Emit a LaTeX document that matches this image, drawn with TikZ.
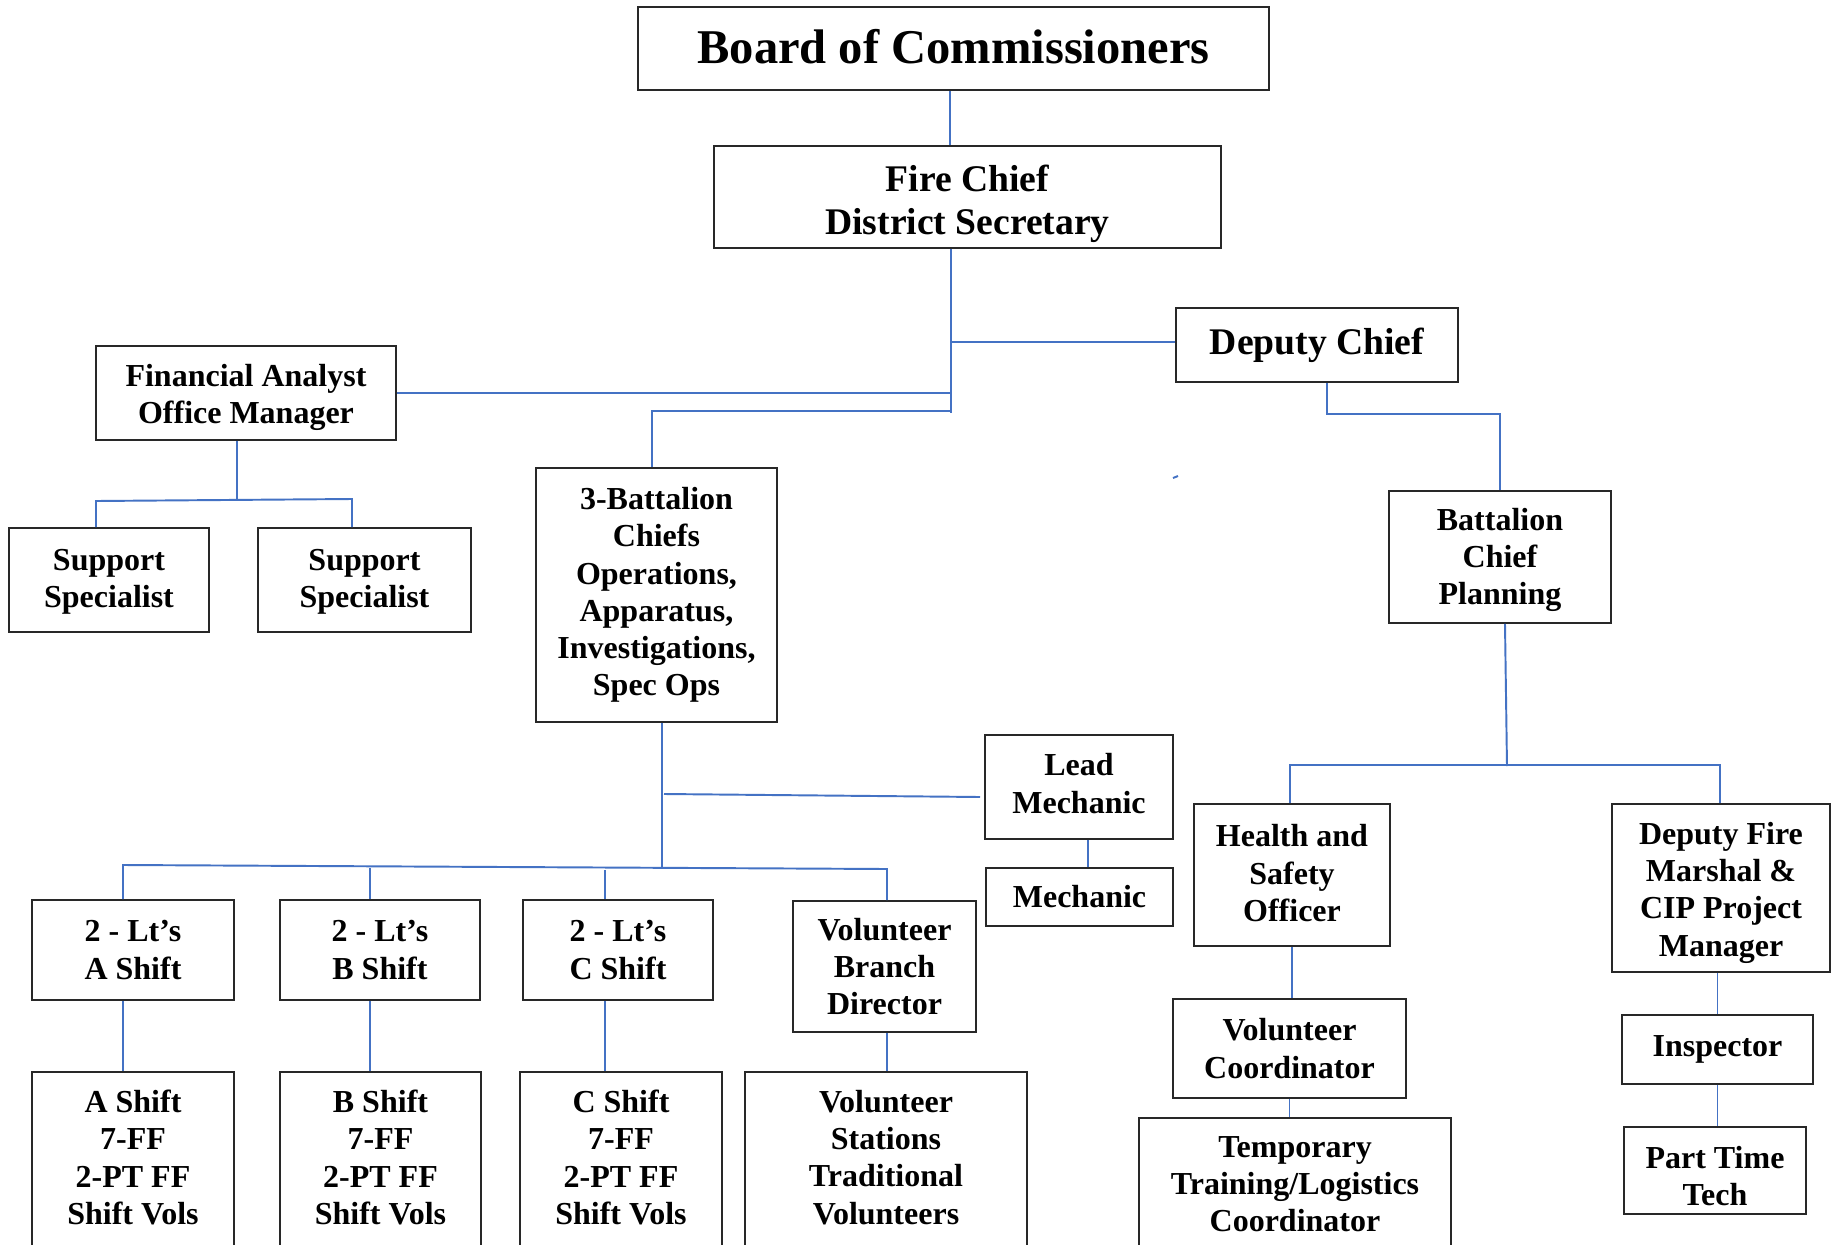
\documentclass[tikz,border=0pt]{standalone}
\usepackage{fontspec}
\setmainfont{Liberation Serif}
\definecolor{lblue}{RGB}{68,114,196}
\definecolor{bord}{RGB}{40,40,40}
\newcommand\bx[7][]{\node[box,#1,minimum width={(#5-#3)*0.01cm},minimum height={(#6-#4)*0.01cm}] (#2) at ({(#3+#5)/2},{(#4+#6)/2}) {#7};}
\newcommand\obx[5]{\node[box,anchor=north,minimum width={(#4-#2)*0.01cm},text depth=90pt,inner ysep=5.2pt] (#1) at ({(#2+#4)/2},#3) {#5};}
\newcommand\tallfirst[1]{\rule{0pt}{#1}}
\newcommand\deeplast[1]{\rule[-#1]{0pt}{#1}}
\tikzset{
  box/.style={draw=bord,line width=0.45pt,align=center,inner sep=0pt,
    font=\bfseries\fontsize{9.1}{10.6}\selectfont},
  bigbox/.style={font=\bfseries\fontsize{10.7}{12.3}\selectfont},
  conn/.style={draw=lblue,line width=0.55pt}
}
\begin{document}
\begin{tikzpicture}[x=0.01cm,y=-0.01cm]
\useasboundingbox (0,0) rectangle (1832,1245);
\clip (0,0) rectangle (1832,1245);
\fill[white] (0,0) rectangle (1832,1245);
% boxes
\bx[font=\bfseries\fontsize{13.8}{16}\selectfont]{board}{638}{7}{1269}{90}{Board of Commissioners\deeplast{1.1pt}}
\bx[bigbox]{chief}{714}{146}{1221}{248}{\tallfirst{11.2pt}Fire Chief\\District Secretary}
\bx[bigbox]{deputy}{1176}{308}{1458}{382}{Deputy Chief}
\bx{fin}{96}{346}{396}{440}{\tallfirst{9pt}Financial Analyst\\Office Manager}
\bx{sup1}{9}{528}{209}{632}{\tallfirst{7.1pt}Support\\Specialist}
\bx{sup2}{258}{528}{471}{632}{\tallfirst{7.1pt}Support\\Specialist}
\bx{bat3}{536}{468}{777}{722}{3-Battalion\\Chiefs\\Operations,\\Apparatus,\\Investigations,\\Spec Ops}
\bx{bcp}{1389}{491}{1611}{623}{\tallfirst{7.9pt}Battalion\\Chief\\Planning}
\bx{lead}{985}{735}{1173}{839}{Lead\\Mechanic\deeplast{2pt}}
\bx{mech}{986}{868}{1173}{926}{Mechanic}
\bx{hs}{1194}{804}{1390}{946}{Health and\\Safety\\Officer\deeplast{1.2pt}}
\bx{dfm}{1612}{804}{1830}{972}{\tallfirst{9pt}Deputy Fire\\Marshal \&\\CIP Project\\Manager}
\bx{ltA}{32}{900}{234}{1000}{2 - Lt’s\\A Shift}
\bx{ltB}{280}{900}{480}{1000}{2 - Lt’s\\B Shift}
\bx{ltC}{523}{900}{713}{1000}{2 - Lt’s\\C Shift}
\bx{vbd}{793}{901}{976}{1032}{Volunteer\\Branch\\Director}
\bx{vc}{1173}{999}{1406}{1098}{Volunteer\\Coordinator}
\bx{insp}{1622}{1015}{1813}{1084}{Inspector}
\bx{ptt}{1624}{1127}{1806}{1214}{\tallfirst{9.6pt}Part Time\\Tech}
\obx{shA}{32}{1071}{234}{A Shift\\7-FF\\2-PT FF\\Shift Vols}
\obx{shB}{280}{1071}{481}{B Shift\\7-FF\\2-PT FF\\Shift Vols}
\obx{shC}{520}{1071}{722}{C Shift\\7-FF\\2-PT FF\\Shift Vols}
\obx{vst}{745}{1071}{1027}{Volunteer\\Stations\\Traditional\\Volunteers}
\obx{temp}{1139}{1117}{1451}{Temporary\\Training/Logistics\\Coordinator}
% junction coordinates
\coordinate (xa) at (950,0);
\coordinate (tb) at (951,413);
\coordinate (dj) at (951,342);
\coordinate (b3) at (652,411);
\coordinate (d1) at (1327,414);
\coordinate (s1) at (1173,478);
\coordinate (s2) at (1178,476);
\coordinate (f1) at (237,500);
\coordinate (fl) at (96,501);
\coordinate (fr) at (352,499);
\coordinate (b4) at (662,869);
\coordinate (lm) at (664,794);
\coordinate (lm2) at (980,797);
\coordinate (mm) at (1088,0);
\coordinate (bl) at (123,865);
\coordinate (br) at (887,869);
\coordinate (bb) at (370,868);
\coordinate (bc) at (605,870);
\coordinate (p0) at (1505,0);
\coordinate (p1) at (1507,766);
\coordinate (hl) at (1290,765);
\coordinate (hr) at (1720,765);
% connectors
\draw[conn] (board.south -| xa) -- (chief.north -| xa);
\draw[conn] (chief.south -| tb) -- (tb);
\draw[conn] (dj) -- (deputy.west |- dj);
\draw[conn] (fin.east) -- (tb |- fin.east);
\draw[conn] (tb |- b3) -- (b3) -- (b3 |- bat3.north);
\draw[conn] (deputy.south -| d1) -- (d1) -- (d1 -| bcp.north) -- (bcp.north);
\draw[conn] (s1) -- (s2);
\draw[conn] (fin.south -| f1) -- (f1);
\draw[conn] (fl |- sup1.north) -- (fl) -- (fr) -- (fr |- sup2.north);
\draw[conn] (bat3.south -| b4) -- (b4);
\draw[conn] (lm) -- (lm2);
\draw[conn] (lead.south -| mm) -- (mech.north -| mm);
\draw[conn] (bl |- ltA.north) -- (bl) -- (br) -- (br |- vbd.north);
\draw[conn] (bb) -- (bb |- ltB.north);
\draw[conn] (bc) -- (bc |- ltC.north);
\draw[conn] (ltA.south -| bl) -- (shA.north -| bl);
\draw[conn] (ltB.south -| bb) -- (shB.north -| bb);
\draw[conn] (ltC.south -| bc) -- (shC.north -| bc);
\draw[conn] (vbd.south -| br) -- (vst.north -| br);
\draw[conn] (bcp.south -| p0) -- (p1);
\draw[conn] (hl |- hs.north) -- (hl) -- (hr) -- (hr |- dfm.north);
\draw[conn] (hs.south) -- (hs.south |- vc.north);
\draw[conn] (vc.south) -- (vc.south |- temp.north);
\draw[conn] (insp.north |- dfm.south) -- (insp.north);
\draw[conn] (insp.south) -- (insp.south |- ptt.north);
\end{tikzpicture}
\end{document}
